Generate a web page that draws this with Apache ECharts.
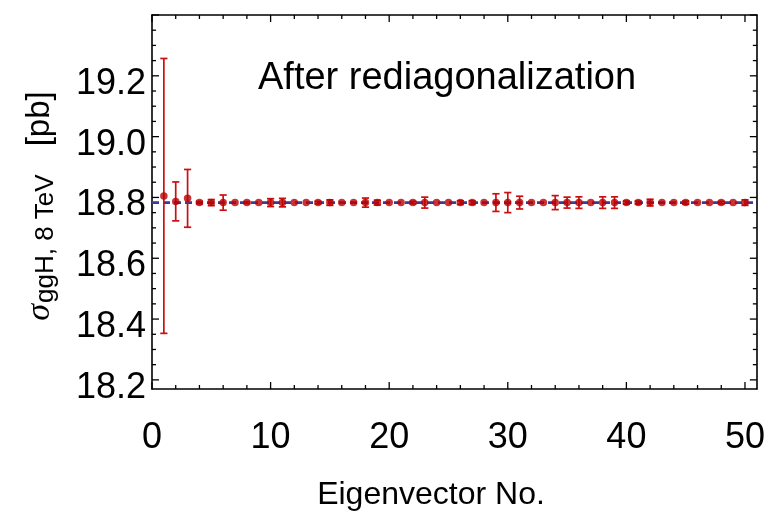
<!DOCTYPE html>
<html>
<head>
<meta charset="utf-8">
<script src="https://cdn.jsdelivr.net/npm/echarts@6/dist/echarts.min.js"></script>
<style>
  html, body { margin: 0; padding: 0; background: #ffffff; }
  #chart { width: 768px; height: 515px; }
</style>
</head>
<body>
<div id="chart"></div>
<script>
// Eigenvector index (1..50)
const eigenvectorNo = [
  1, 2, 3, 4, 5, 6, 7, 8, 9, 10,
  11, 12, 13, 14, 15, 16, 17, 18, 19, 20,
  21, 22, 23, 24, 25, 26, 27, 28, 29, 30,
  31, 32, 33, 34, 35, 36, 37, 38, 39, 40,
  41, 42, 43, 44, 45, 46, 47, 48, 49, 50
];
// Cross section for each eigenvector [pb]
const sigmaValues = [
  18.805, 18.787, 18.797, 18.783, 18.783, 18.783, 18.783, 18.783, 18.783, 18.783,
  18.783, 18.783, 18.783, 18.783, 18.783, 18.783, 18.783, 18.783, 18.783, 18.783,
  18.783, 18.783, 18.783, 18.783, 18.783, 18.783, 18.783, 18.783, 18.783, 18.783,
  18.783, 18.783, 18.783, 18.783, 18.783, 18.783, 18.783, 18.783, 18.783, 18.783,
  18.783, 18.783, 18.783, 18.783, 18.783, 18.783, 18.783, 18.783, 18.783, 18.783
];
// Symmetric uncertainty for each eigenvector [pb]
const sigmaErrors = [
  0.452, 0.064, 0.095, 0.004, 0.010, 0.025, 0, 0.003, 0, 0.013,
  0.014, 0, 0, 0.004, 0.009, 0, 0, 0.015, 0.008, 0,
  0, 0.004, 0.018, 0, 0, 0.006, 0.006, 0, 0.029, 0.033,
  0.021, 0, 0, 0.023, 0.018, 0.019, 0, 0.019, 0.019, 0.005,
  0.005, 0.011, 0, 0, 0.005, 0, 0, 0.004, 0, 0.009
];
// Central value (dashed reference line)
const centralValue = 18.783;

// Axis ranges and tick spacing
const xRange = [0, 51];
const yRange = [18.17, 19.4];
const yLabelRange = [18.2, 19.4];
const xMajorStep = 10, xMinorStep = 2;
const yMajorStep = 0.2, yMinorStep = 0.05;

const RED = '#cc1010';
const DOT = '#bb0000';
const BLUE = '#3a3a9a';
const FONT = '"Liberation Sans", Arial, Helvetica, sans-serif';

// Frame geometry
const frame = { left: 152, right: 11, top: 15, bottom: 126 };
const plotH = 515 - frame.top - frame.bottom;
const pxPerUnit = plotH / (yRange[1] - yRange[0]);
const labelGridBottom = frame.bottom + (yLabelRange[0] - yRange[0]) * pxPerUnit;

const points = eigenvectorNo.map((n, i) => [n, sigmaValues[i], sigmaErrors[i]]);

// Tick marks for the frame: [x, y, side (0 = horizontal edges, 1 = vertical edges), isMajor]
const frameTicks = [];
for (let k = 0; k * xMinorStep <= xRange[1] + 1e-9; k++) {
  const v = xRange[0] + k * xMinorStep;
  const major = Math.abs(v / xMajorStep - Math.round(v / xMajorStep)) < 1e-6;
  frameTicks.push([v, yRange[0], 0, major ? 1 : 0]);
}
for (let k = Math.ceil(yRange[0] / yMinorStep - 1e-6); k * yMinorStep <= yRange[1] + 1e-9; k++) {
  const v = +(k * yMinorStep).toFixed(4);
  const major = Math.abs(v / yMajorStep - Math.round(v / yMajorStep)) < 1e-6;
  frameTicks.push([xRange[0], v, 1, major ? 1 : 0]);
}

const tickLabelStyle = { color: '#000', fontSize: 36, fontFamily: FONT };
const frameLine = { show: true, onZero: false, lineStyle: { color: '#000', width: 1.6 } };

const chart = echarts.init(document.getElementById('chart'), null, { renderer: 'canvas' });
chart.setOption({
  animation: false,
  backgroundColor: '#ffffff',
  grid: [
    { left: frame.left, right: frame.right, top: frame.top, bottom: frame.bottom, show: false },
    { left: frame.left, right: frame.right, top: frame.top, bottom: labelGridBottom, show: false }
  ],
  xAxis: [
    {
      type: 'value', gridIndex: 0, position: 'bottom', min: xRange[0], max: xRange[1], interval: xMajorStep,
      axisLine: frameLine, axisTick: { show: false }, splitLine: { show: false },
      axisLabel: Object.assign({ show: true, margin: 31, showMaxLabel: false }, tickLabelStyle)
    },
    {
      type: 'value', gridIndex: 0, position: 'top', min: xRange[0], max: xRange[1],
      axisLine: frameLine, axisTick: { show: false }, axisLabel: { show: false }, splitLine: { show: false }
    },
    { type: 'value', gridIndex: 1, min: xRange[0], max: xRange[1], show: false }
  ],
  yAxis: [
    {
      type: 'value', gridIndex: 0, position: 'left', min: yRange[0], max: yRange[1],
      axisLine: frameLine, axisTick: { show: false }, axisLabel: { show: false }, splitLine: { show: false }
    },
    {
      type: 'value', gridIndex: 0, position: 'right', min: yRange[0], max: yRange[1],
      axisLine: frameLine, axisTick: { show: false }, axisLabel: { show: false }, splitLine: { show: false }
    },
    {
      type: 'value', gridIndex: 1, position: 'left', min: yLabelRange[0], max: yLabelRange[1], interval: yMajorStep,
      axisLine: { show: false }, axisTick: { show: false }, splitLine: { show: false },
      axisLabel: Object.assign({ show: true, margin: 6, showMaxLabel: false,
        formatter: v => '{a|' + v.toFixed(1) + '}',
        rich: { a: { fontSize: 36, fontFamily: FONT, color: '#000', padding: [16, 0, 0, 0] } }
      }, tickLabelStyle)
    }
  ],
  graphic: [
    {
      type: 'text', x: 258, y: 79,
      style: { text: 'After rediagonalization', fill: '#000', font: '38px ' + FONT,
               textAlign: 'left', textVerticalAlign: 'middle' }
    },
    {
      type: 'text', x: 40, y: 206, rotation: Math.PI / 2,
      style: {
        text: '{s|σ}{sub|ggH, 8 TeV}{u|[pb]}',
        fill: '#000', align: 'center', verticalAlign: 'middle',
        rich: {
          s: { fontSize: 34, fontStyle: 'italic', fontFamily: '"Liberation Serif", "DejaVu Serif", serif', fill: '#000' },
          sub: { fontSize: 26, fontFamily: FONT, fill: '#000', padding: [12, 0, 0, 1], verticalAlign: 'bottom' },
          u: { fontSize: 33, fontFamily: FONT, fill: '#000', padding: [0, 0, 0, 28] }
        }
      }
    },
    {
      type: 'text', x: 431, y: 495,
      style: { text: 'Eigenvector No.', fill: '#000', font: '32px ' + FONT,
               textAlign: 'center', textVerticalAlign: 'middle' }
    }
  ],
  series: [
    {
      // inward tick marks on all four sides of the frame
      type: 'custom', xAxisIndex: 0, yAxisIndex: 0, z: 5, silent: true, clip: false,
      data: frameTicks,
      renderItem: function (params, api) {
        const side = api.value(2), major = api.value(3);
        const len = major ? 7 : 4;
        const st = { stroke: '#000', lineWidth: 1.3 };
        if (side === 0) {
          const v = api.value(0);
          const b = api.coord([v, yRange[0]]);
          const t = api.coord([v, yRange[1]]);
          return { type: 'group', children: [
            { type: 'line', shape: { x1: b[0], y1: b[1], x2: b[0], y2: b[1] - len }, style: st },
            { type: 'line', shape: { x1: t[0], y1: t[1], x2: t[0], y2: t[1] + len }, style: st }
          ] };
        }
        const v = api.value(1);
        const l = api.coord([xRange[0], v]);
        const r = api.coord([xRange[1], v]);
        return { type: 'group', children: [
          { type: 'line', shape: { x1: l[0], y1: l[1], x2: l[0] + len, y2: l[1] }, style: st },
          { type: 'line', shape: { x1: r[0], y1: r[1], x2: r[0] - len, y2: r[1] }, style: st }
        ] };
      }
    },
    {
      type: 'line', xAxisIndex: 0, yAxisIndex: 0, z: 2,
      data: [[xRange[0], centralValue], [xRange[1], centralValue]],
      showSymbol: false, silent: true,
      lineStyle: { color: BLUE, width: 2.6, type: [7, 4] }
    },
    {
      type: 'custom', xAxisIndex: 0, yAxisIndex: 0, z: 3,
      data: points,
      renderItem: function (params, api) {
        const x = api.value(0), y = api.value(1), e = api.value(2);
        if (!(e > 0)) return null;
        const hi = api.coord([x, y + e]);
        const lo = api.coord([x, y - e]);
        const hw = 3.6;
        const st = { stroke: RED, lineWidth: 1.7 };
        return {
          type: 'group',
          children: [
            { type: 'line', shape: { x1: hi[0], y1: hi[1], x2: lo[0], y2: lo[1] }, style: st },
            { type: 'line', shape: { x1: hi[0] - hw, y1: hi[1], x2: hi[0] + hw, y2: hi[1] }, style: st },
            { type: 'line', shape: { x1: lo[0] - hw, y1: lo[1], x2: lo[0] + hw, y2: lo[1] }, style: st }
          ]
        };
      }
    },
    {
      type: 'scatter', xAxisIndex: 0, yAxisIndex: 0, z: 4,
      data: points.map(p => [p[0], p[1]]),
      symbol: 'circle', symbolSize: 7.5,
      itemStyle: { color: DOT }
    }
  ]
});
</script>
</body>
</html>
